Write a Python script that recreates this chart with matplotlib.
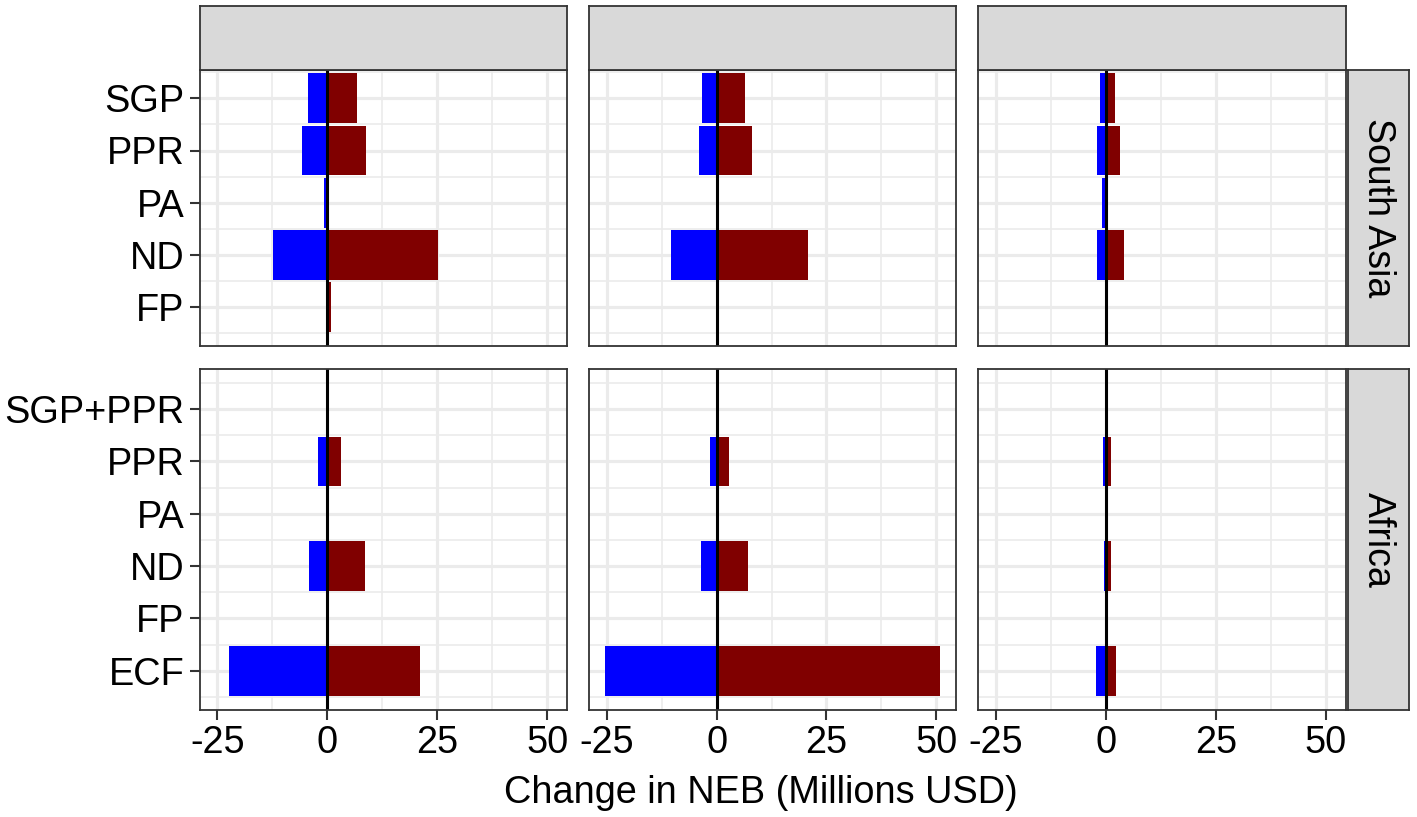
import matplotlib
matplotlib.use("Agg")
import matplotlib.pyplot as plt
import numpy as np

plt.rcParams['font.family'] = ['Liberation Sans', 'DejaVu Sans']

# ---- data ----
regions = ["South Asia", "Africa"]
categories_sa = ["SGP", "PPR", "PA", "ND", "FP"]
categories_af = ["SGP+PPR", "PPR", "PA", "ND", "FP", "ECF"]

# blue (negative) and dark red (positive) components, per column (scenario)
sa_neg = [
    [-4.4, -5.8, -0.75, -12.4, -0.1],
    [-3.3, -4.0, 0.0, -10.4, 0.0],
    [-1.4, -2.1, -0.75, -2.0, 0.0],
]
sa_pos = [
    [6.8, 8.9, 0.0, 25.1, 0.75],
    [6.5, 8.0, 0.0, 20.9, 0.0],
    [2.2, 3.2, 0.0, 4.2, 0.0],
]
af_neg = [
    [0.0, -2.0, 0.0, -4.1, 0.0, -22.3],
    [0.0, -1.4, 0.0, -3.6, 0.0, -25.3],
    [0.0, -0.7, 0.0, -0.5, 0.0, -2.3],
]
af_pos = [
    [0.0, 3.1, 0.0, 8.5, 0.0, 21.1],
    [0.0, 2.8, 0.0, 7.2, 0.0, 50.8],
    [0.0, 1.2, 0.0, 1.3, 0.0, 2.3],
]
x_ticks = [-25, 0, 25, 50]
x_minor = [-12.5, 12.5, 37.5]
x_label = "Change in NEB (Millions USD)"

# ---- layout (pixels) ----
W, H = 1417, 817
fig = plt.figure(figsize=(W / 100, H / 100), dpi=100)

def px_axes(x0, y0, x1, y1):
    return fig.add_axes([x0 / W, 1 - y1 / H, (x1 - x0) / W, (y1 - y0) / H])

cols = [(199.5, 567), (589, 956), (978, 1345.5)]
rows = [(70, 346), (369.3, 710)]
ylims = [(4.74, -0.54), (5.75, -0.76)]
xlim = (-29.05, 54.5)

FS = 27.3
GRID = "#EBEBEB"
DARK = "#333333"
BLUE = "#0000FF"
RED = "#800000"

data = [(categories_sa, sa_neg, sa_pos), (categories_af, af_neg, af_pos)]

for r, (cats, negs, poss) in enumerate(data):
    n = len(cats)
    ypos = np.arange(n)
    for c in range(3):
        ax = px_axes(cols[c][0], rows[r][0], cols[c][1], rows[r][1])
        ax.set_xlim(*xlim)
        ax.set_ylim(*ylims[r])
        # grid
        for xv in x_minor:
            ax.axvline(xv, color=GRID, lw=1.2, zorder=0)
        for xv in x_ticks:
            ax.axvline(xv, color=GRID, lw=2.3, zorder=0)
        for yv in np.arange(-0.5, n + 0.5, 1.0):
            ax.axhline(yv, color=GRID, lw=1.2, zorder=0)
        for yv in ypos:
            ax.axhline(yv, color=GRID, lw=2.3, zorder=0)
        ax.barh(ypos, negs[c], height=0.95, color=BLUE, zorder=2, linewidth=0)
        ax.barh(ypos, poss[c], height=0.95, color=RED, zorder=2, linewidth=0)
        ax.axvline(0, color="black", lw=2.2, zorder=3)
        for s in ax.spines.values():
            s.set_color(DARK)
            s.set_linewidth(1.3)
            s.set_zorder(4)
        ax.set_xticks(x_ticks)
        ax.set_yticks(ypos)
        ax.tick_params(axis="both", length=7.5, width=1.5, color=DARK,
                       labelsize=FS, labelcolor="black", pad=3.5)
        if c == 0:
            ax.set_yticklabels(cats)
        else:
            ax.set_yticklabels([])
            ax.tick_params(axis="y", length=0)
        if r == 1:
            ax.set_xticklabels([str(v) for v in x_ticks])
        else:
            ax.set_xticklabels([])
            ax.tick_params(axis="x", length=0)

# top strips (empty)
for c in range(3):
    sax = px_axes(cols[c][0], 6, cols[c][1], 69.5)
    sax.set_facecolor("#D9D9D9")
    sax.set_xticks([]); sax.set_yticks([])
    for s in sax.spines.values():
        s.set_color(DARK); s.set_linewidth(1.3)

# right strips
for r in range(2):
    sax = px_axes(1347.7, rows[r][0], 1409, rows[r][1])
    sax.set_facecolor("#D9D9D9")
    sax.set_xticks([]); sax.set_yticks([])
    for s in sax.spines.values():
        s.set_color(DARK); s.set_linewidth(1.3)
    sax.text(0.5, 0.5, regions[r], rotation=-90, ha="center", va="center",
             fontsize=27, color="black", transform=sax.transAxes)

fig.text(761 / W, 1 - 793 / H, x_label, ha="center", va="center",
         fontsize=FS)

fig.savefig("out.png", dpi=100, facecolor="white")
